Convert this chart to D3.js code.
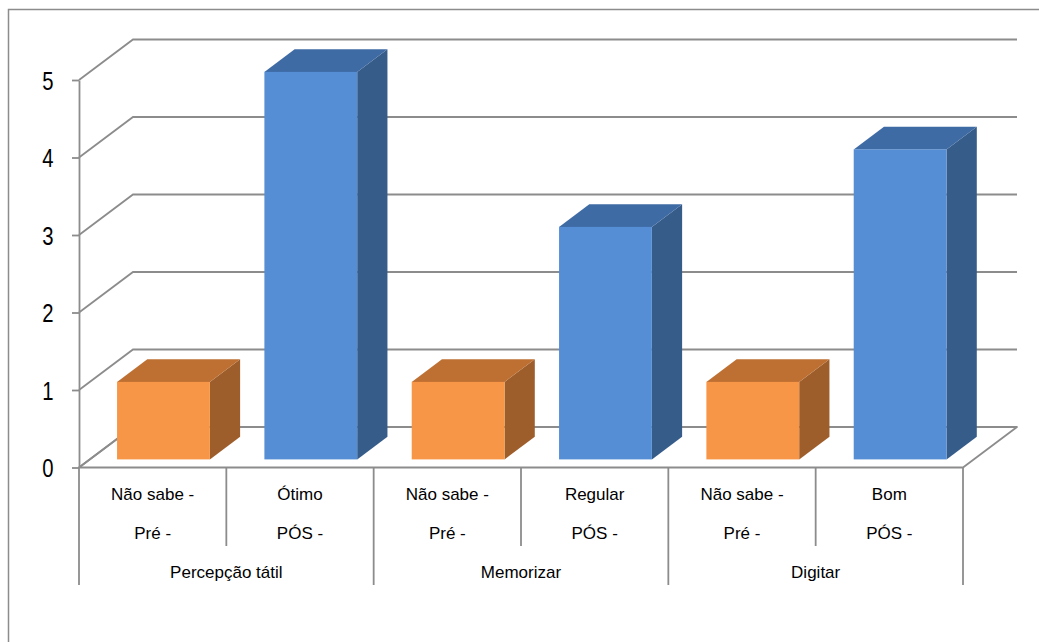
<!DOCTYPE html>
<html>
<head>
<meta charset="utf-8">
<script src="https://cdn.jsdelivr.net/npm/d3@7"></script>
<style>
  html, body { margin: 0; padding: 0; background: #fff; }
  svg { display: block; }
  text { font-family: "Liberation Sans", Arial, sans-serif; fill: #000; }
</style>
</head>
<body>
<svg id="chart" width="1039" height="642"></svg>
<script>
// Category labels (two lines per column) and group labels
const groups = ["Percepção tátil", "Memorizar", "Digitar"];
const labelTop = ["Não sabe -", "Ótimo", "Não sabe -", "Regular", "Não sabe -", "Bom"];
const labelBottom = ["Pré -", "PÓS -", "Pré -", "PÓS -", "Pré -", "PÓS -"];
const phase = ["pre", "pos", "pre", "pos", "pre", "pos"];
const values = [1, 5, 1, 3, 1, 4];
const yTicks = [0, 1, 2, 3, 4, 5];

const svg = d3.select("#chart");

// Outer chart frame
svg.append("rect")
  .attr("x", 8.5).attr("y", 9.5)
  .attr("width", 1100).attr("height", 700)
  .attr("fill", "none").attr("stroke", "#8c8c8c").attr("stroke-width", 1.5);

// Front plane and depth of the 3D box
const x0 = 79, x1 = 963;
const depthX = 54, depthY = -40.5;
const y = d3.scaleLinear().domain([0, 5]).range([467.5, 80]);
const x = d3.scaleBand().domain(d3.range(values.length)).range([x0, x1])
  .paddingInner(0.37).paddingOuter(0.185);
const step = (x1 - x0) / values.length;

const gridColor = "#8c8c8c";
const faces = {
  pre: { front: "#F79646", top: "#BE7033", side: "#9D5E2B" },
  pos: { front: "#558ED5", top: "#3F6BA5", side: "#365C8A" }
};

// Floor
const floorY = y(0);
svg.append("path")
  .attr("d", `M${x0},${floorY} L${x1},${floorY} L${x1 + depthX},${floorY + depthY} L${x0 + depthX},${floorY + depthY} Z`)
  .attr("fill", "#fff").attr("stroke", gridColor).attr("stroke-width", 1.8)
  .attr("stroke-linejoin", "round");

// Back-wall gridlines with their diagonal links to the value axis
const grid = svg.append("g");
yTicks.forEach(t => {
  const yy = y(t);
  grid.append("path")
    .attr("d", `M${x0},${yy} L${x0 + depthX},${yy + depthY} L${x1 + depthX},${yy + depthY}`)
    .attr("fill", "none").attr("stroke", gridColor).attr("stroke-width", 1.8);
});

// Value axis
const axis = svg.append("g")
  .attr("transform", `translate(${x0},0)`)
  .call(d3.axisLeft(y).tickValues(yTicks).tickSize(7).tickSizeOuter(0).tickFormat(d3.format("d")));
axis.select(".domain").attr("stroke", gridColor).attr("stroke-width", 1.8);
axis.selectAll(".tick line").attr("stroke", gridColor).attr("stroke-width", 1.8);
axis.selectAll(".tick text")
  .attr("x", 0).attr("dy", "0.36em")
  .attr("text-anchor", "middle")
  .attr("transform", "translate(-31,0) scale(0.78,1)")
  .style("font-size", "26px");

// 3D columns
const f0 = 0.2, f1 = 0.76;
const bars = svg.append("g");
values.forEach((v, i) => {
  const c = faces[phase[i]];
  const bx = x(i) + depthX * f0;
  const bw = x.bandwidth();
  const top = y(v) + depthY * f0;
  const bottom = y(0) + depthY * f0;
  const dx = depthX * (f1 - f0), dy = depthY * (f1 - f0);
  const g = bars.append("g");
  g.append("path")
    .attr("d", `M${bx + bw},${top} L${bx + bw + dx},${top + dy} L${bx + bw + dx},${bottom + dy} L${bx + bw},${bottom} Z`)
    .attr("fill", c.side);
  g.append("path")
    .attr("d", `M${bx},${top} L${bx + dx},${top + dy} L${bx + bw + dx},${top + dy} L${bx + bw},${top} Z`)
    .attr("fill", c.top);
  g.append("rect")
    .attr("x", bx).attr("y", top).attr("width", bw).attr("height", bottom - top)
    .attr("fill", c.front);
});

// Multi-level category axis
const cat = svg.append("g");
for (let k = 0; k <= values.length; k++) {
  const xx = x0 + k * step;
  const outer = k % 2 === 0;
  cat.append("line")
    .attr("x1", xx).attr("x2", xx)
    .attr("y1", floorY).attr("y2", outer ? 585 : 546)
    .attr("stroke", gridColor).attr("stroke-width", 1.8);
}
values.forEach((v, i) => {
  const cx = x(i) + x.bandwidth() / 2;
  cat.append("text").attr("x", cx).attr("y", 494).attr("dy", "0.35em")
    .attr("text-anchor", "middle").style("font-size", "17px").text(labelTop[i]);
  cat.append("text").attr("x", cx).attr("y", 533).attr("dy", "0.35em")
    .attr("text-anchor", "middle").style("font-size", "17px").text(labelBottom[i]);
});
groups.forEach((gname, j) => {
  const cx = x0 + (2 * j + 1) * step;
  cat.append("text").attr("x", cx).attr("y", 572).attr("dy", "0.35em")
    .attr("text-anchor", "middle").style("font-size", "17px").text(gname);
});
</script>
</body>
</html>
